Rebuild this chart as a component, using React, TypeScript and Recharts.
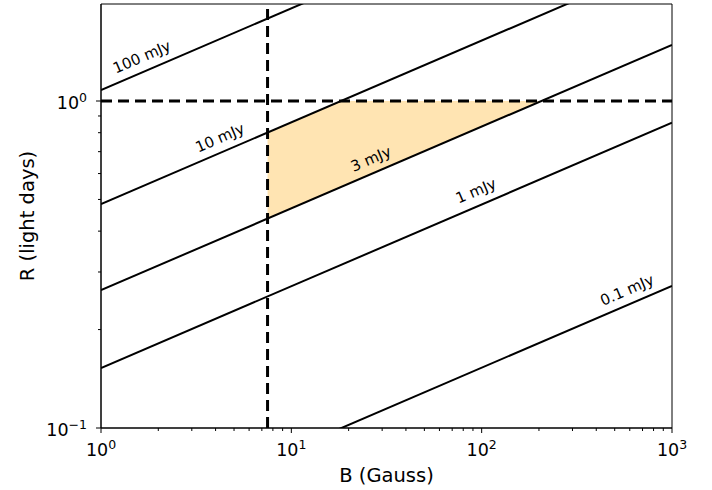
import React from 'react';
import { ComposedChart, XAxis, YAxis, Line, Area, ReferenceLine, ReferenceArea, ReferenceDot } from 'recharts';

const FONT = '"DejaVu Sans", sans-serif';

// field ends (B in Gauss) and R (light days) of each flux line at those ends
const bEnds = [1, 1000];
const line100 = [1.08, 6.07];
const line10 = [0.484, 2.72];
const line3 = [0.264, 1.485];
const line1 = [0.1526, 0.858];
const line01 = [0.0483, 0.272];

const fluxLines = [line100, line10, line3, line1, line01];

// shaded band between 3 mJy and 10 mJy, capped at R = 1, right of B = 7.5
const shadeB = [7.5, 18.2, 205];
const shadeLow = [0.437, 0.545, 1];
const shadeHigh = [0.801, 1, 1];

// line labels
const labelText = ['100 mJy', '10 mJy', '3 mJy', '1 mJy', '0.1 mJy'];
const labelB = [1.64, 4.22, 26.2, 93.4, 581];
const labelR = [1.363, 0.771, 0.665, 0.531, 0.264];

const bCut = 7.5;
const rCut = 1;

const xMajors = [1, 10, 100, 1000];
const xExp = ['0', '1', '2', '3'];
const yMajors = [0.1, 1];
const yExp = ['\u22121', '0'];
const minorSteps = [2, 3, 4, 5, 6, 7, 8, 9];

const xTicks = [...xMajors, ...xMajors.slice(0, 3).flatMap(m => minorSteps.map(s => s * m))];
const yTicks = [...yMajors, ...minorSteps.map(s => s * 0.1)];

const shadeData = shadeB.map((b, i) => ({ B: b, band: [shadeLow[i], shadeHigh[i]] }));

const XTick = (props: any) => {
  const { x, y, payload } = props;
  const idx = xMajors.indexOf(payload.value);
  const major = idx >= 0;
  return (
    <g>
      <line x1={x} x2={x} y1={y} y2={y + (major ? 5 : 3)} stroke="#000" strokeWidth={1} />
      {major && (
        <text x={x} y={y + 28} textAnchor="middle" fontSize={17.5} fontFamily={FONT} fill="#000">
          <tspan>10</tspan>
          <tspan dy={-7} fontSize={12.5}>{xExp[idx]}</tspan>
        </text>
      )}
    </g>
  );
};

const YTick = (props: any) => {
  const { x, y, payload } = props;
  const idx = yMajors.findIndex(v => Math.abs(v - payload.value) < 1e-9);
  const major = idx >= 0;
  return (
    <g>
      <line x1={x - (major ? 5 : 3)} x2={x} y1={y} y2={y} stroke="#000" strokeWidth={1} />
      {major && (
        <text x={x - 14} y={y + 8} textAnchor="end" fontSize={17.5} fontFamily={FONT} fill="#000">
          <tspan>10</tspan>
          <tspan dy={-7} fontSize={12.5}>{yExp[idx]}</tspan>
        </text>
      )}
    </g>
  );
};

const lineLabel = (text: string) => (props: any) => {
  const { cx, cy } = props;
  return (
    <text
      x={cx}
      y={cy}
      transform={`rotate(-23.3 ${cx} ${cy})`}
      textAnchor="middle"
      dominantBaseline="central"
      fontSize={15}
      fontFamily={FONT}
      fill="#000"
    >
      {text}
    </text>
  );
};

export default function App() {
  return (
    <div style={{ position: 'absolute', left: 0, top: 0, background: '#fff' }}>
      <ComposedChart width={712} height={490} data={shadeData} margin={{ top: 4, right: 40, bottom: 0, left: 0 }}>
        <XAxis
          type="number"
          dataKey="B"
          scale="log"
          domain={[1, 1000]}
          allowDataOverflow
          ticks={xTicks}
          interval={0}
          tick={<XTick />}
          tickLine={false}
          tickSize={0}
          tickMargin={0}
          height={62}
          axisLine={{ stroke: '#000', strokeWidth: 1 }}
          label={{
            content: (p: any) => (
              <text x={p.viewBox.x + p.viewBox.width / 2} y={p.viewBox.y + 54} textAnchor="middle" fontSize={19.5} fontFamily={FONT} fill="#000">
                B (Gauss)
              </text>
            ),
          }}
        />
        <YAxis
          type="number"
          scale="log"
          domain={[0.1, 1.98]}
          allowDataOverflow
          ticks={yTicks}
          interval={0}
          tick={<YTick />}
          tickLine={false}
          tickSize={0}
          tickMargin={0}
          width={101}
          axisLine={{ stroke: '#000', strokeWidth: 1 }}
          label={{
            content: (p: any) => {
              const cx = 27;
              const cy = p.viewBox.y + p.viewBox.height / 2;
              return (
                <text x={cx} y={cy} transform={`rotate(-90 ${cx} ${cy})`} textAnchor="middle" dominantBaseline="central" fontSize={19.5} fontFamily={FONT} fill="#000">
                  R (light days)
                </text>
              );
            },
          }}
        />
        <Area type="linear" dataKey="band" fill="#ffe4b2" fillOpacity={1} stroke="none" isAnimationActive={false} />
        {fluxLines.map((vals, i) => (
          <Line
            key={labelText[i]}
            type="linear"
            data={bEnds.map((b, j) => ({ B: b, R: vals[j] }))}
            dataKey="R"
            stroke="#000"
            strokeWidth={2}
            dot={false}
            isAnimationActive={false}
          />
        ))}
        <ReferenceLine x={bCut} stroke="#000" strokeWidth={3} strokeDasharray="11 6" />
        <ReferenceLine y={rCut} stroke="#000" strokeWidth={3} strokeDasharray="11 6" />
        {labelText.map((t, i) => (
          <ReferenceDot key={t} x={labelB[i]} y={labelR[i]} r={0} shape={lineLabel(t)} />
        ))}
        <ReferenceArea x1={1} x2={1000} y1={0.1} y2={1.98} fill="none" stroke="#000" strokeWidth={1} />
      </ComposedChart>
    </div>
  );
}
